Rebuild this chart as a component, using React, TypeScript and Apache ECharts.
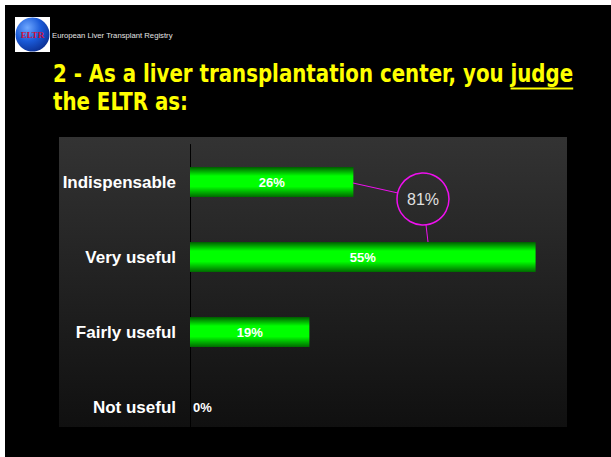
import React, { useEffect, useRef } from "react";
import * as echarts from "echarts";

const categories = ["Indispensable", "Very useful", "Fairly useful", "Not useful"];
const values = [26, 55, 19, 0];
const xMax = 60;
const titleLine1 = "2 - As a liver transplantation center, you ";
const titleUnderlined = "judge";
const titleLine2 = "the ELTR as:";
const groupedLabel = "81%";
const headerText = "European Liver Transplant Registry";

const TITLE_FONT = "bold 22px 'DejaVu Sans Condensed', 'DejaVu Sans', sans-serif";
const TITLE_SCALE_Y = 1.13;

function measure(text: string, font: string): number {
  const c = document.createElement("canvas").getContext("2d");
  if (!c) return text.length * 11;
  c.font = font;
  return c.measureText(text).width;
}

export default function App() {
  const ref = useRef<HTMLDivElement>(null);
  useEffect(() => {
    if (!ref.current) return;
    const chart = echarts.init(ref.current, null, { renderer: "svg" });
    const titleX = 53;
    const w1 = measure(titleLine1, TITLE_FONT);
    const wu = measure(titleUnderlined, TITLE_FONT);
    const barGradient = new echarts.graphic.LinearGradient(0, 0, 0, 1, [
      { offset: 0, color: "#005c00" },
      { offset: 0.3, color: "#00ff00" },
      { offset: 0.65, color: "#00ff00" },
      { offset: 1, color: "#006a00" },
    ]);
    chart.setOption({
      animation: false,
      backgroundColor: "#ffffff",
      graphic: [
        { type: "rect", z: -10, silent: true, shape: { x: 5, y: 5, width: 606, height: 452 }, style: { fill: "#000000" } },
        {
          type: "rect", z: -9, silent: true,
          shape: { x: 59, y: 137, width: 508, height: 290 },
          style: {
            fill: new echarts.graphic.LinearGradient(0, 0, 0, 1, [
              { offset: 0, color: "#333333" },
              { offset: 1, color: "#101010" },
            ]),
          },
        },
        { type: "rect", shape: { x: 15, y: 17, width: 35, height: 35 }, style: { fill: "#ffffff" } },
        {
          type: "circle",
          shape: { cx: 32.5, cy: 34.5, r: 17 },
          style: {
            fill: new echarts.graphic.RadialGradient(0.35, 0.3, 0.8, [
              { offset: 0, color: "#6fa8ff" },
              { offset: 0.5, color: "#1a5ad8" },
              { offset: 1, color: "#0a2a8a" },
            ]),
          },
        },
        {
          type: "text", x: 32.5, y: 35,
          style: { text: "ELTR", fill: "#d0103a", font: "bold 9px 'Liberation Serif', serif", align: "center", verticalAlign: "middle" },
        },
        {
          type: "text", x: 52, y: 35,
          style: { text: headerText, fill: "#e4e4e4", font: "7.7px 'Liberation Sans', Arial, sans-serif", verticalAlign: "middle" },
        },
        {
          type: "text", x: titleX, y: 61, scaleY: TITLE_SCALE_Y,
          style: { text: titleLine1 + titleUnderlined, fill: "#ffff00", font: TITLE_FONT, verticalAlign: "top" },
        },
        {
          type: "line",
          shape: { x1: titleX + w1, y1: 88.5, x2: titleX + w1 + wu, y2: 88.5 },
          style: { stroke: "#ffff00", lineWidth: 2 },
        },
        {
          type: "text", x: titleX, y: 89, scaleY: TITLE_SCALE_Y,
          style: { text: titleLine2, fill: "#ffff00", font: TITLE_FONT, verticalAlign: "top" },
        },
        { type: "line", z: 10, shape: { x1: 353, y1: 183, x2: 398, y2: 193 }, style: { stroke: "#ee10ee", lineWidth: 1 } },
        { type: "line", z: 10, shape: { x1: 426, y1: 225, x2: 428, y2: 242 }, style: { stroke: "#ee10ee", lineWidth: 1 } },
        { type: "circle", z: 10, shape: { cx: 423, cy: 199, r: 26 }, style: { fill: "none", stroke: "#ee10ee", lineWidth: 1.5 } },
        {
          type: "text", z: 11, x: 423, y: 199,
          style: { text: groupedLabel, fill: "#e0e0e0", font: "16px 'Liberation Sans', Arial, sans-serif", align: "center", verticalAlign: "middle" },
        },
      ],
      grid: { left: 190, top: 144.5, width: 377, height: 300, containLabel: false },
      xAxis: {
        type: "value", min: 0, max: xMax, show: false,
      },
      yAxis: {
        type: "category",
        inverse: true,
        data: categories,
        axisLine: { show: true, lineStyle: { color: "#000000", width: 1 } },
        axisTick: { show: false },
        splitLine: { show: false },
        axisLabel: {
          color: "#ffffff",
          fontFamily: "'Liberation Sans', Arial, sans-serif",
          fontWeight: "bold",
          fontSize: 17,
          margin: 14,
        },
      },
      series: [
        {
          type: "bar",
          barWidth: 30,
          data: values.map((v) =>
            v === 0
              ? { value: v, label: { position: "right", distance: 3 } }
              : { value: v }
          ),
          itemStyle: { color: barGradient },
          label: {
            show: true,
            position: "inside",
            formatter: "{c}%",
            color: "#ffffff",
            fontFamily: "'Liberation Sans', Arial, sans-serif",
            fontWeight: "bold",
            fontSize: 13,
          },
        },
      ],
    });
    return () => chart.dispose();
  }, []);
  return <div ref={ref} style={{ position: "fixed", left: 0, top: 0, width: 611, height: 457 }} />;
}
